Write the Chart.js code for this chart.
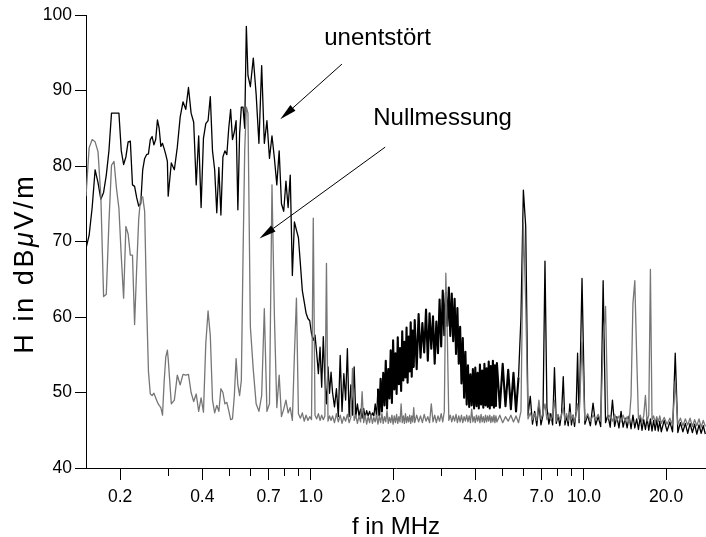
<!DOCTYPE html>
<html>
<head>
<meta charset="utf-8">
<title>Feldstärke unentstört / Nullmessung</title>
<script src="https://cdn.jsdelivr.net/npm/chart.js@4.4.1/dist/chart.umd.min.js"></script>
<style>
    html, body { margin: 0; padding: 0; background: #fff; }
    #wrap { position: relative; width: 706px; height: 537px; }
</style>
</head>
<body>
<div id="wrap"><canvas id="chartSpectrum"></canvas></div>
<script>
const palette = {
    black: '#000000',
    gray: '#767676',
};

// sweep frequencies in kHz (both traces share the same grid)
const sweepKHz = [
    150, 154, 158, 162, 166, 170, 174, 178, 182, 186, 190, 194, 198, 202, 206, 210, 214, 218, 222, 226,
    230, 234, 238, 242, 246, 250, 254, 258, 262, 266, 270, 274, 278, 282, 286, 290, 294, 298,
    300, 308, 316, 324, 332, 340, 348, 356, 364, 372, 380, 388, 396, 404, 412, 420, 428, 436, 444, 452,
    460, 468, 476, 484, 492, 500, 508, 516, 524, 532, 540, 548, 556, 564, 572, 580, 588,
    600, 615, 630, 645, 660, 675, 690, 705, 720, 735, 750, 765, 780, 795, 810, 825, 840, 855, 870, 885,
    900, 915, 930, 945, 960, 975, 990, 1005, 1020, 1035, 1050, 1065, 1080, 1095, 1110, 1125, 1140, 1155, 1170, 1185,
    1200, 1220, 1240, 1260, 1280, 1300, 1320, 1340, 1360, 1380, 1400, 1420, 1440, 1460, 1480, 1500, 1520, 1540, 1560, 1580,
    1600, 1620, 1640, 1660, 1680, 1700, 1720, 1740, 1760, 1780, 1800, 1820, 1840, 1860, 1880, 1900, 1920, 1940, 1960, 1980,
    2000, 2020, 2040, 2060, 2080, 2100, 2120, 2140, 2160, 2180, 2200, 2220, 2240, 2260, 2280, 2300, 2320, 2340, 2360, 2380,
    2400, 2440, 2480, 2520, 2560, 2600, 2640, 2680, 2720, 2760, 2800, 2840, 2880, 2920, 2960, 3000, 3040, 3080, 3120, 3160,
    3200, 3240, 3280, 3320, 3360, 3400, 3440, 3480, 3520, 3560, 3600, 3640, 3680, 3720, 3760, 3800, 3840, 3880, 3920, 3960,
    4000, 4040, 4080, 4120, 4160, 4200, 4240, 4280, 4320, 4360, 4400, 4440, 4480, 4520, 4560, 4600, 4640, 4680, 4720, 4760,
    4800, 4920, 5040, 5160, 5280, 5400, 5520, 5640, 5760, 5880, 6000, 6120, 6240, 6360, 6480, 6600, 6720, 6840, 6960, 7080,
    7200, 7320, 7440, 7560, 7680, 7800, 7920, 8040, 8160, 8280, 8400, 8520, 8640, 8760, 8880, 9000, 9120, 9240, 9360, 9480,
    9600, 9840, 10080, 10320, 10560, 10800, 11040, 11280, 11520, 11760, 12000, 12240, 12480, 12720, 12960, 13200, 13440, 13680, 13920, 14160,
    14400, 14640, 14880, 15120, 15360, 15600, 15840, 16080, 16320, 16560, 16800, 17040, 17280, 17520, 17760, 18000, 18240, 18480, 18720, 18960,
    19200, 19680, 20160, 20640, 21120, 21600, 22080, 22560, 23040, 23520, 24000, 24480, 24960, 25440, 25920, 26400, 26880, 27360, 27840,
];

// H in dBuV/m, interference not suppressed
const unentstoert = [
    69.1, 70.8, 74.5, 79.5, 77.8, 75.6, 76.5, 78.8, 82.0, 87.0, 87.0, 87.0, 87.0, 82.0, 80.2, 81.2, 83.2, 83.3, 77.5, 77.3,
    75.8, 74.7, 75.0, 79.5, 81.0, 81.5, 81.6, 83.5, 83.9, 82.8, 83.5, 86.1, 85.0, 82.6, 83.0, 82.3, 81.5, 80.6,
    76.0, 80.4, 79.5, 82.5, 86.5, 88.5, 87.5, 90.4, 87.0, 85.8, 77.5, 84.0, 74.5, 83.7, 85.6, 86.0, 89.2, 82.0, 79.5, 73.8,
    79.8, 73.5, 81.2, 82.0, 81.5, 85.0, 87.5, 83.5, 84.5, 86.0, 74.2, 84.3, 87.8, 87.8, 85.0, 98.5, 92.0,
    90.5, 94.3, 89.5, 83.0, 93.3, 83.0, 86.0, 81.0, 84.0, 81.0, 77.5, 82.0, 75.0, 74.0, 78.0, 74.5, 78.8, 65.5, 72.6, 71.5,
    70.5, 67.0, 63.5, 62.0, 60.5, 59.8, 59.5, 57.8, 56.9, 57.6, 55.2, 52.5, 56.0, 50.7, 57.4, 51.5, 48.5, 53.4, 49.9, 52.7,
    50.0, 48.1, 50.5, 46.8, 54.9, 47.5, 52.5, 49.0, 55.8, 46.8, 51.0, 47.0, 53.4, 46.8, 48.5, 46.9, 47.8, 46.6, 47.9, 46.7,
    47.6, 46.9, 47.5, 46.8, 47.3, 46.9, 48.5, 46.8, 50.5, 47.0, 51.8, 47.5, 52.6, 48.3, 54.2, 47.9, 53.1, 49.2, 55.6, 48.6,
    56.9, 50.4, 55.2, 49.8, 57.3, 51.1, 55.9, 50.2, 58.1, 51.6, 56.7, 52.0, 58.6, 51.3, 57.4, 52.8, 59.3, 52.1, 58.2, 53.4,
    59.6, 53.1, 60.4, 54.6, 59.2, 55.3, 61.0, 54.2, 60.5, 55.8, 60.1, 53.8, 59.4, 55.2, 62.3, 56.1, 63.5, 57.6, 63.2, 58.8,
    63.9, 57.5, 63.1, 56.8, 62.4, 55.1, 61.2, 53.8, 58.7, 51.2, 57.2, 49.3, 55.4, 48.4, 53.6, 48.1, 52.4, 48.3, 53.1, 47.9,
    53.3, 48.2, 52.6, 47.9, 53.7, 48.4, 52.9, 48.0, 53.8, 48.3, 53.2, 48.1, 54.1, 47.9, 53.5, 48.3, 54.2, 48.0, 53.6, 48.2,
    53.9, 48.0, 53.8, 48.2, 53.0, 47.8, 52.6, 47.5, 52.0, 60.0, 76.8, 72.0, 47.0, 49.5, 45.8, 47.5, 45.6, 48.5, 45.7, 47.0,
    67.4, 48.0, 45.8, 47.2, 45.7, 53.3, 45.9, 47.0, 45.6, 47.2, 52.1, 45.7, 46.9, 45.6, 48.5, 45.7, 47.0, 45.5, 47.5, 55.2,
    46.0, 65.1, 45.8, 47.0, 45.6, 48.6, 45.7, 46.8, 45.5, 64.8, 46.0, 47.0, 45.4, 49.0, 45.5, 46.8, 45.3, 47.5, 45.4, 46.6,
    45.3, 46.9, 45.2, 47.0, 45.3, 46.5, 45.1, 46.8, 45.0, 46.4, 45.1, 46.6, 45.0, 46.5, 44.9, 46.3, 45.0, 46.4, 44.9, 46.2,
    44.8, 46.3, 44.9, 46.1, 44.8, 55.2, 44.7, 46.0, 44.8, 45.9, 44.6, 45.9, 44.7, 45.8, 44.5, 45.7, 44.6, 45.6, 44.5,
];

// H in dBuV/m, reference measurement with the device off
const nullmessung = [
    76.0, 82.4, 83.5, 83.2, 81.9, 76.0, 62.7, 63.0, 72.5, 80.1, 80.6, 77.0, 74.4, 68.0, 62.5, 72.0, 71.0, 68.2, 68.2, 59.0,
    66.5, 73.0, 75.9, 75.9, 74.0, 62.0, 52.8, 49.8, 49.6, 49.9, 49.3, 48.7, 48.3, 48.0, 47.0, 51.5, 54.7, 55.6,
    54.5, 48.5, 49.0, 52.3, 51.0, 52.4, 52.3, 52.4, 50.0, 48.8, 49.8, 47.5, 49.3, 47.4, 56.5, 60.8, 57.5, 49.0, 47.3, 48.3,
    47.5, 50.5, 50.0, 48.5, 48.7, 47.6, 46.4, 46.5, 49.5, 54.5, 51.0, 49.6, 51.6, 68.0, 82.0, 87.8, 87.0,
    58.7, 53.0, 48.5, 47.5, 49.6, 61.1, 47.5, 48.5, 77.5, 60.0, 48.0, 52.3, 46.8, 47.8, 49.0, 47.3, 48.0, 46.3, 55.0, 62.5,
    47.2, 46.6, 47.3, 46.2, 47.0, 46.3, 46.8, 46.4, 73.1, 47.0, 46.5, 47.2, 46.3, 47.0, 46.4, 46.9, 67.1, 46.2, 46.9, 46.3,
    46.9, 46.0, 47.2, 46.1, 47.0, 45.9, 46.8, 46.2, 47.1, 46.0, 46.7, 53.2, 46.3, 47.0, 45.9, 46.9, 46.1, 50.1, 46.0, 47.0,
    45.8, 46.8, 46.0, 47.1, 45.9, 46.7, 46.1, 47.0, 45.8, 46.9, 46.0, 47.2, 45.9, 46.8, 46.1, 47.6, 45.9, 46.7, 46.0, 47.0,
    45.8, 46.9, 46.0, 47.1, 45.9, 46.8, 46.1, 48.5, 46.0, 46.9, 45.9, 47.2, 46.0, 46.8, 46.1, 47.0, 45.9, 46.9, 46.1, 48.0,
    46.0, 47.0, 46.1, 46.9, 46.0, 47.1, 46.2, 46.8, 46.0, 48.5, 46.1, 47.0, 46.0, 46.9, 46.2, 47.2, 46.1, 47.5, 65.8, 57.4,
    46.3, 47.0, 46.1, 46.9, 46.2, 47.1, 46.0, 46.9, 46.1, 47.0, 46.0, 46.8, 46.2, 47.0, 46.1, 46.9, 46.0, 47.8, 46.1, 46.8,
    46.0, 47.0, 46.2, 46.9, 46.0, 47.1, 46.1, 46.8, 46.0, 47.0, 46.1, 46.9, 46.2, 47.0, 46.0, 46.8, 46.1, 47.0, 46.0, 46.9,
    46.1, 47.0, 46.0, 46.8, 46.2, 47.0, 46.1, 46.9, 46.0, 47.5, 72.5, 62.0, 46.5, 47.3, 46.4, 47.2, 46.3, 49.0, 46.5, 47.2,
    48.5, 46.4, 47.3, 46.3, 47.0, 49.0, 46.2, 47.1, 46.4, 47.0, 48.0, 46.3, 47.2, 46.2, 47.4, 46.4, 47.0, 46.1, 47.1, 48.5,
    46.5, 56.7, 46.3, 47.2, 46.2, 47.0, 46.4, 47.1, 46.2, 56.4, 61.4, 46.5, 47.0, 46.2, 47.1, 46.3, 46.9, 46.1, 47.0, 46.2,
    46.8, 46.0, 49.5, 61.8, 64.8, 55.0, 46.5, 47.0, 46.1, 46.9, 49.6, 46.2, 47.0, 66.3, 46.4, 46.9, 46.0, 46.8, 46.1, 46.9,
    45.9, 46.7, 45.8, 46.6, 45.7, 51.5, 45.8, 46.6, 45.6, 46.5, 45.7, 46.6, 45.5, 46.4, 45.6, 46.5, 45.4, 46.3, 45.5,
];

const xMajorTicks = [0.2, 0.4, 0.7, 1, 2, 4, 7, 10, 20];
const xTickLabels = ['0.2', '0.4', '0.7', '1.0', '2.0', '4.0', '7.0', '10.0', '20.0'];
const xMinorTicks = [0.3, 0.5, 0.6, 0.8, 0.9, 3, 5, 6, 8, 9];

// band where the unsuppressed trace is a dense noise carpet (MHz)
const noiseBand = [1.75, 5.85];

// callouts: text anchor, arrow tail and arrow tip in data units (MHz, dB)
const callouts = [
    { text: 'unentstört', at: [1.119, 96.0], from: [1.299, 93.5], to: [0.772, 86.2] },
    { text: 'Nullmessung', at: [1.691, 85.4], from: [1.871, 82.5], to: [0.648, 70.4] },
];

const fontFamily = '"Liberation Sans", Arial, Helvetica, sans-serif';

function toPoints(levels) {
    return sweepKHz.map((f, i) => ({ x: f / 1000, y: levels[i] }));
}

function drawArrow(ctx, x0, y0, x1, y1) {
    const ang = Math.atan2(y1 - y0, x1 - x0);
    const len = 17;
    const half = 3.8;
    const bx = x1 - len * Math.cos(ang);
    const by = y1 - len * Math.sin(ang);
    ctx.beginPath();
    ctx.moveTo(x0, y0);
    ctx.lineTo(bx, by);
    ctx.stroke();
    ctx.beginPath();
    ctx.moveTo(x1, y1);
    ctx.lineTo(bx + half * Math.sin(ang), by - half * Math.cos(ang));
    ctx.lineTo(bx - half * Math.sin(ang), by + half * Math.cos(ang));
    ctx.closePath();
    ctx.fill();
}

// rotated y title, mu set in italics as in the original
function drawYTitle(ctx, cx, cy) {
    const size = 27;
    const spacing = 2.6;
    const glyphs = [...'H in dB'].map((c) => ({ c, italic: false }))
        .concat([{ c: 'μ', italic: true }])
        .concat([...'V/m'].map((c) => ({ c, italic: false })));
    let total = 0;
    glyphs.forEach((g) => {
        ctx.font = `${g.italic ? 'italic ' : ''}${size}px ${fontFamily}`;
        g.w = ctx.measureText(g.c).width;
        total += g.w;
    });
    total += spacing * (glyphs.length - 1);
    ctx.save();
    ctx.translate(cx, cy);
    ctx.rotate(-Math.PI / 2);
    ctx.textAlign = 'left';
    ctx.textBaseline = 'alphabetic';
    let pos = -total / 2;
    glyphs.forEach((g) => {
        ctx.font = `${g.italic ? 'italic ' : ''}${size}px ${fontFamily}`;
        ctx.fillText(g.c, pos, 0);
        pos += g.w + spacing;
    });
    ctx.restore();
}

const overlay = {
    id: 'overlay',
    afterDraw(chart) {
        const { ctx, chartArea, scales: { x, y } } = chart;
        ctx.save();
        ctx.strokeStyle = palette.black;
        ctx.fillStyle = palette.black;
        ctx.lineWidth = 1;

        // short ticks between the labelled ones
        ctx.beginPath();
        xMinorTicks.forEach((v) => {
            const px = Math.round(x.getPixelForValue(v)) + 0.5;
            ctx.moveTo(px, chartArea.bottom);
            ctx.lineTo(px, chartArea.bottom + 8);
        });
        ctx.stroke();

        ctx.font = `24px ${fontFamily}`;
        ctx.textAlign = 'left';
        ctx.textBaseline = 'alphabetic';
        callouts.forEach((c) => {
            ctx.fillText(c.text, x.getPixelForValue(c.at[0]), y.getPixelForValue(c.at[1]));
            drawArrow(
                ctx,
                x.getPixelForValue(c.from[0]), y.getPixelForValue(c.from[1]),
                x.getPixelForValue(c.to[0]), y.getPixelForValue(c.to[1]),
            );
        });

        drawYTitle(ctx, 33, 265);
        ctx.restore();
    },
};

Chart.defaults.font.family = fontFamily;
Chart.defaults.color = palette.black;

new Chart(document.getElementById('chartSpectrum'), {
    type: 'line',
    data: {
        datasets: [
            {
                label: 'unentstört',
                data: toPoints(unentstoert),
                borderColor: palette.black,
                borderWidth: 1.3,
                segment: {
                    borderWidth: (ctx) => (
                        ctx.p0.parsed.x >= noiseBand[0] && ctx.p1.parsed.x <= noiseBand[1] ? 2.1 : 1.3
                    ),
                },
                order: 1,
            },
            {
                label: 'Nullmessung',
                data: toPoints(nullmessung),
                borderColor: palette.gray,
                borderWidth: 1.3,
                order: 0,
            },
        ],
    },
    options: {
        responsive: true,
        maintainAspectRatio: false,
        animation: false,
        events: [],
        layout: { padding: { top: 15, right: 0, bottom: 0, left: 0 } },
        elements: {
            point: { radius: 0 },
            line: { tension: 0, fill: false, borderJoinStyle: 'round' },
        },
        plugins: {
            legend: { display: false },
            tooltip: { enabled: false },
        },
        scales: {
            x: {
                type: 'logarithmic',
                min: 0.15,
                max: 28,
                afterBuildTicks: (scale) => {
                    scale.ticks = xMajorTicks.map((value) => ({ value }));
                },
                afterFit: (scale) => { scale.height = 69; },
                grid: { drawOnChartArea: false, drawTicks: true, tickLength: 12, color: palette.black },
                border: { color: palette.black, width: 1 },
                ticks: {
                    autoSkip: false,
                    maxRotation: 0,
                    padding: 7,
                    color: palette.black,
                    font: { size: 17.5 },
                    callback: (value, index) => xTickLabels[index],
                },
                title: {
                    display: true,
                    text: 'f in MHz',
                    color: palette.black,
                    font: { size: 24 },
                    padding: { top: 0, bottom: -5 },
                },
            },
            y: {
                min: 40,
                max: 100,
                afterFit: (scale) => { scale.width = 86; },
                grid: { drawOnChartArea: false, drawTicks: true, tickLength: 11, color: palette.black },
                border: { color: palette.black, width: 1 },
                ticks: { stepSize: 10, padding: 3, color: palette.black, font: { size: 17.5 } },
            },
        },
    },
    plugins: [overlay],
});
</script>
</body>
</html>
